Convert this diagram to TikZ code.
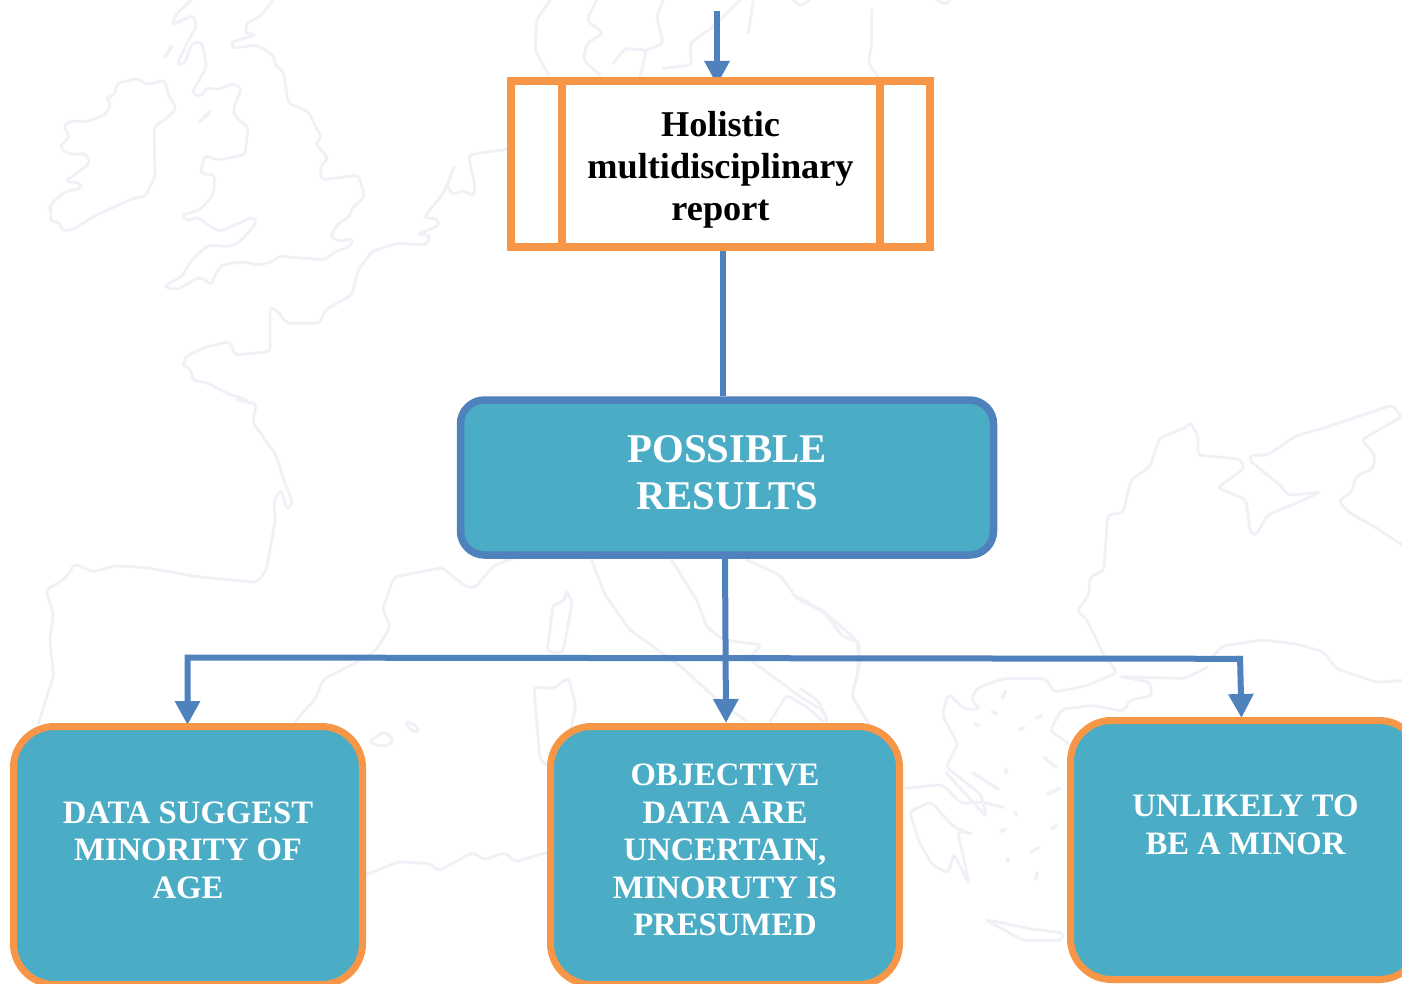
\documentclass[tikz,border=0pt]{standalone}
\usepackage{fontspec}
\setmainfont{Liberation Serif}
\usetikzlibrary{arrows.meta,calc,backgrounds}
\definecolor{bluel}{HTML}{4F81BD}
\definecolor{orangel}{HTML}{F79646}
\definecolor{tealf}{HTML}{4BACC6}
\definecolor{mapc}{HTML}{F0F1F7}
\tikzset{
  mapline/.style={draw=mapc,line width=2.8pt,line join=round,line cap=round,rounded corners=4pt},
  mapdot/.style={draw=mapc,line width=3.5pt,line cap=round},
  connector/.style={draw=bluel,line width=6pt},
  arrowed/.style={connector,-{Triangle[length=24pt,width=24pt]}},
  resultbox/.style={draw=orangel,fill=tealf,line width=7pt,rounded corners=41pt,inner sep=0pt},
  headbox/.style={draw=bluel,fill=tealf,line width=7.5pt,rounded corners=24pt,inner sep=0pt},
  reportbox/.style={draw=orangel,fill=white,line width=8pt,inner sep=0pt},
  smalltext/.style={text=white,align=center,inner sep=0pt,font=\bfseries\fontsize{32.7}{37.4}\selectfont},
  headtext/.style={text=white,align=center,inner sep=0pt,font=\bfseries\fontsize{40.8}{47}\selectfont},
  reporttext/.style={text=black,align=center,inner sep=0pt,font=\bfseries\fontsize{36.3}{42}\selectfont}
}
\begin{document}
\begin{tikzpicture}[x=1pt,y=-1pt]
\useasboundingbox (0,0) rectangle (1402,984);
% boxes
\node[reportbox,minimum width=419pt,minimum height=166pt] (report) at (720.5,164) {};
\draw[draw=orangel,line width=8pt] (561.5,81) -- (561.5,247);
\draw[draw=orangel,line width=8pt] (879.5,81) -- (879.5,247);
\node[headbox,minimum width=533pt,minimum height=155pt] (possible) at (727,477.5) {};
\node[resultbox,minimum width=349pt,minimum height=258pt] (dataminor) at (188,855.5) {};
\node[resultbox,minimum width=349pt,minimum height=258pt] (uncertain) at (725,855.5) {};
\node[resultbox,minimum width=349.5pt,minimum height=259pt] (unlikely) at (1245.25,850) {};
% labels
\node[reporttext] (reportlabel) at (720.5,169.5) {Holistic\\multidisciplinary\\report};
\node[headtext] (possiblelabel) at (727.3,473) {POSSIBLE\\RESULTS};
\node[smalltext] (datalabel) at (188,850) {DATA SUGGEST\\MINORITY OF\\AGE};
\node[smalltext] (uncertainlabel) at (725,850) {OBJECTIVE\\DATA ARE\\UNCERTAIN,\\MINORUTY IS\\PRESUMED};
\node[smalltext] (unlikelylabel) at (1245.5,825) {UNLIKELY TO\\BE A MINOR};
\begin{scope}[on background layer]
\fill[white] (0,0) rectangle (1402,984);
% faint map: British Isles and Channel
\begin{scope}[x=0.33333pt,y=-0.33333pt]
\draw[mapline] (350,250)--(415,235)--(440,255)--(495,240)--(505,285)--(530,325)--(500,355)--(462,380)--(465,530)--(435,590)--(400,595)--(290,645)--(215,690)--(185,692)--(180,665)--(150,665)--(155,630)--(145,620)--(195,575)--(245,565)--(240,548)--(195,545)--(270,490)--(260,462)--(205,462)--(178,440)--(210,410)--(190,378)--(215,362)--(260,365)--(315,345)--(335,310)--(315,295)--(345,285)--cycle;
\draw[mapline] (820,0)--(780,50)--(740,70)--(735,100)--(770,105)--(695,125)--(695,145)--(770,135)--(820,165)--(825,195)--(850,215)--(865,310)--(925,335)--(965,415)--(945,430)--(985,475)--(960,500)--(965,540)--(1075,525)--(1095,590)--(1055,625)--(1050,650)--(1015,670)--(990,710)--(1020,725)--(1060,715)--(1050,740)--(1005,755)--(975,780)--(835,768)--(820,785)--(770,795)--(730,785)--(665,795)--(645,825)--(635,855)--(600,830)--(530,870)--(490,860)--(545,830)--(575,780)--(625,735)--(690,740)--(720,725)--(770,670)--(760,650)--(660,695)--(625,675)--(590,650)--(565,665)--(545,645)--(600,630)--(640,585)--(645,525)--(600,520)--(615,465)--(650,480)--(735,465)--(745,380)--(705,350)--(700,325)--(725,265)--(700,250)--(650,270)--(620,262)--(605,290)--(575,280)--(620,200)--(605,125)--(575,130)--(555,190)--(530,195)--(560,130)--(590,80)--(580,45)--(515,75)--(530,40)--(575,0);
\draw[mapdot] (495,170)--(515,140);
\draw[mapdot] (600,365)--(630,335);
\draw[mapline] (550,1095)--(555,1070)--(620,1040)--(690,1025)--(705,1065)--(810,1055)--(810,920)--(835,935)--(860,970)--(960,970)--(975,930)--(1055,885)--(1075,810)--(1115,755)--(1190,730)--(1280,735)--(1290,705)--(1250,705)--(1320,675)--(1310,655)--(1270,655)--(1330,580)--(1365,495)--(1340,560)--(1360,585)--(1390,570)--(1420,590)--(1425,560)--(1405,465)--(1500,450);
\draw[mapline] (550,1095)--(575,1110)--(575,1140)--(625,1150)--(680,1180)--(740,1200);
\end{scope}
% faint map: Denmark, Baltic
\begin{scope}[shift={(500,0)},x=0.33333pt,y=-0.33333pt]
\draw[mapline] (150,0)--(110,60)--(105,150)--(145,225);
\draw[mapline] (290,0)--(260,60)--(310,100)--(260,130)--(250,180)--(300,225);
\draw[mapline] (340,190)--(375,145)--(440,150)--(420,230);
\draw[mapline] (490,0)--(470,50)--(490,130)--(440,150);
\draw[mapline] (490,205)--(575,195)--(570,130)--(640,80)--(700,20)--(720,0);
\draw[mapline] (760,0)--(745,100);
\draw[mapline] (880,0)--(900,20)--(930,0);
\draw[mapline] (1115,30)--(1115,130)--(1105,190)--(1135,230);
\draw[mapline] (1310,0)--(1340,15)--(1350,0);
\draw[mapline] (0,455)--(20,445);
\end{scope}
% faint map: Iberia, W Mediterranean
\begin{scope}[shift={(0,400)},x=0.3827pt,y=-0.3724pt]
\draw[mapline] (620,0)--(670,10)--(660,60)--(720,145)--(745,225)--(765,275)--(750,295)--(735,240)--(715,270)--(720,320)--(695,460)--(670,490)--(520,475)--(380,450)--(300,445)--(245,462)--(195,440)--(170,480)--(120,510)--(140,575)--(130,640)--(140,740)--(100,870);
\draw[mapline] (1340,425)--(1290,445)--(1240,505)--(1215,500)--(1155,450)--(1030,475)--(1000,560)--(1020,610)--(980,675)--(940,700)--(845,750)--(825,800)--(770,865);
\draw[mapline] (965,915)--(1005,890)--(1030,915)--(1010,930)--(975,925)--cycle;
\draw[mapline] (1060,860)--(1095,880)--(1090,895)--(1065,880)--cycle;
\draw[mapline] (1480,510)--(1495,545)--(1470,680)--(1430,675)--(1445,550)--(1475,540)--cycle;
\draw[mapline] (1395,770)--(1445,775)--(1485,745)--(1505,820)--(1490,890)--(1430,985)--(1410,960)--cycle;
\draw[mapline] (955,1275)--(1040,1240)--(1125,1245)--(1145,1265)--(1235,1215)--(1265,1235)--(1320,1215)--(1345,1240)--(1430,1215);
\end{scope}
% faint map: Italy
\begin{scope}[shift={(540,540)},x=0.33333pt,y=-0.33333pt]
\draw[mapline] (155,60)--(195,165)--(270,270)--(340,320)--(430,385)--(510,460)--(620,545);
\draw[mapline] (395,60)--(470,180)--(500,260)--(550,300)--(665,315)--(640,340)--(630,360)--(700,410)--(780,470)--(855,515)--(860,545);
\draw[mapline] (620,60)--(720,105)--(770,175)--(850,215)--(950,300)--(960,370)--(935,470)--(985,550);
\draw[mapline] (690,545)--(740,465)--(800,500)--(850,545);
\end{scope}
% faint map: Balkans, Black Sea, Aegean
\begin{scope}[shift={(800,380)},x=0.3846pt,y=-0.3852pt]
\draw[mapline] (0,565)--(60,600)--(110,665)--(155,680)--(150,760)--(135,820)--(175,885);
\draw[mapline] (0,800)--(50,835)--(70,885);
\draw[mapline] (790,715)--(745,620)--(720,600)--(750,560)--(755,510)--(790,495)--(800,350)--(840,345)--(860,260)--(910,225)--(935,150)--(1000,125)--(1015,110)--(1035,145)--(1035,195)--(1145,205)--(1155,230)--(1085,280)--(1160,310)--(1170,395)--(1185,405)--(1215,350)--(1290,320)--(1355,290)--(1270,300)--(1245,270)--(1170,210)--(1170,195)--(1215,195)--(1290,145)--(1360,125)--(1540,65)--(1565,95)--(1460,155)--(1495,195)--(1490,230)--(1445,250)--(1435,290)--(1400,315)--(1430,345)--(1500,385)--(1568,430);
\draw[mapline] (1070,720)--(1100,690)--(1200,675)--(1290,685)--(1360,705)--(1395,750)--(1500,785)--(1568,780);
\draw[mapline] (790,715)--(825,760)--(740,795)--(660,810)--(640,775)--(530,775)--(460,800)--(445,830)--(470,855)--(430,855)--(385,815)--(370,870)--(410,945)--(380,1005)--(470,1075)--(485,1135)--(440,1085)--(380,1020);
\draw[mapline] (275,1060)--(370,1050)--(420,1100)--(470,1095)--(530,1110);
\draw[mapline] (285,1120)--(340,1095)--(400,1160)--(450,1180)--(410,1170)--(440,1310)--(400,1230)--(385,1280)--(345,1260)--(310,1200)--cycle;
\draw[mapline] (835,770)--(910,785)--(915,820)--(860,830)--(840,860)--(760,845)--(680,855)--(650,910)--(700,945);
\draw[mapline] (835,770)--(1000,775)--(1060,745);
\draw[mapline] (480,1400)--(600,1425)--(685,1435)--(680,1455)--(580,1455)--cycle;
\draw[mapdot] (525,825)--(535,808);
\draw[mapdot] (500,860)--(512,868);
\draw[mapdot] (455,892)--(465,897);
\draw[mapdot] (570,908)--(582,902);
\draw[mapdot] (615,877)--(628,872);
\draw[mapdot] (535,1010)--(537,1020);
\draw[mapdot] (635,980)--(665,1005);
\draw[mapdot] (645,1075)--(675,1060);
\draw[mapdot] (450,1020)--(515,1062);
\draw[mapdot] (522,1172)--(535,1165);
\draw[mapdot] (655,1165)--(668,1155);
\draw[mapdot] (600,1225)--(620,1215);
\draw[mapdot] (538,1250)--(542,1242);
\draw[mapdot] (613,1295)--(616,1280);
\draw[mapdot] (560,1122)--(563,1128);
\end{scope}
% connectors, beneath the boxes
\coordinate (topstart) at (717,11);
\coordinate (busleft) at (187.5,657.5);
\coordinate (busright) at (1240,658.8);
\coordinate (xA) at (723,0);
\coordinate (xB) at (725,0);
\coordinate (xC) at (726,0);
\coordinate (xD) at (1241.5,0);
\draw[arrowed] (topstart) -- ($(topstart |- report.north)+(0,8)$);
\draw[connector] (report.south -| xA) -- (possible.north -| xA);
\draw[arrowed] (possible.south -| xB) -- (uncertain.north -| xC);
\draw[arrowed] (busright) -- (busleft) -- ($(dataminor.north -| busleft)+(0,2)$);
\draw[arrowed] ($(busright)+(0,-3)$) -- ($(unlikely.north -| xD)+(0,1)$);
\end{scope}
% arrow tips that lie over the result boxes' rims are redrawn by the layer order
\end{tikzpicture}
\end{document}
